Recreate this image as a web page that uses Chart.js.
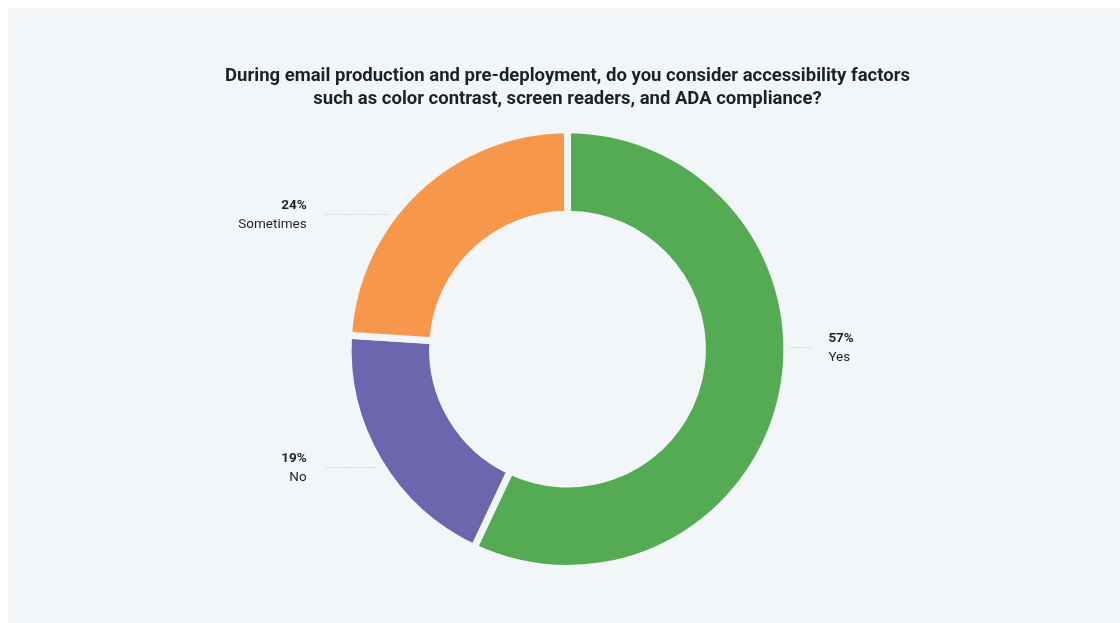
<!DOCTYPE html>
<html>
<head>
<meta charset="utf-8">
<script src="https://cdn.jsdelivr.net/npm/chart.js@4"></script>
<style>
    html, body { margin: 0; padding: 0; background: #ffffff; }
    .panel {
        position: absolute;
        left: 8px; top: 8px;
        width: 1112px; height: 615px;
        background: #f3f6f9;
    }
</style>
</head>
<body>
<div class="panel"><canvas id="accessChart" width="1112" height="615"></canvas></div>
<script>
const answers = ['Yes', 'No', 'Sometimes'];
const shares = [57, 19, 24];
const sliceColors = ['#55ab54', '#6b66ad', '#f7974b'];
const titleLines = [
    'During email production and pre-deployment, do you consider accessibility factors',
    'such as color contrast, screen readers, and ADA compliance?'
];

// vertical placement of each callout, as a fraction of the outer radius from the centre
const calloutLift = [-0.012, 0.545, -0.625];
// slices are separated by a background-coloured border
const panelColor = '#f3f6f9';
const sliceGap = 7;

const calloutPlugin = {
    id: 'callouts',
    afterDatasetsDraw(chart) {
        const ctx = chart.ctx;
        const arcs = chart.getDatasetMeta(0).data;
        arcs.forEach(function(arc, i) {
            const p = arc.getProps(['x', 'y', 'startAngle', 'endAngle', 'outerRadius'], true);
            const mid = (p.startAngle + p.endAngle) / 2;
            const right = Math.cos(mid) >= 0;
            // half of the border sits over the painted edge
            const r = p.outerRadius - sliceGap / 2;
            const ly = Math.round(p.y + calloutLift[i] * r);
            const dy = ly - p.y;
            const edge = Math.sqrt(Math.max(r * r - dy * dy, 0));
            const textX = right ? p.x + r + 45 : p.x - r - 45;

            // dotted leader
            ctx.save();
            ctx.strokeStyle = '#babfc5';
            ctx.lineWidth = 1;
            ctx.setLineDash([1, 2]);
            ctx.beginPath();
            if (right) {
                ctx.moveTo(p.x + edge + 6, ly + 0.5);
                ctx.lineTo(textX - 15, ly + 0.5);
            } else {
                ctx.moveTo(textX + 20, ly + 0.5);
                ctx.lineTo(p.x - edge - 10, ly + 0.5);
            }
            ctx.stroke();
            ctx.restore();

            ctx.save();
            ctx.fillStyle = '#1f2328';
            ctx.textAlign = right ? 'left' : 'right';
            ctx.textBaseline = 'middle';
            ctx.font = 'bold 13.5px Roboto';
            ctx.fillText(shares[i] + '%', textX, ly - 8);
            ctx.font = '13.5px Roboto';
            ctx.fillText(answers[i], textX, ly + 11);
            ctx.restore();
        });
    }
};

document.addEventListener('DOMContentLoaded', function() {
    const ctx = document.getElementById('accessChart');
    new Chart(ctx, {
        type: 'doughnut',
        data: {
            labels: answers,
            datasets: [{
                data: shares,
                backgroundColor: sliceColors,
                borderColor: panelColor,
                borderWidth: sliceGap,
                borderJoinStyle: 'miter'
            }]
        },
        options: {
            responsive: false,
            animation: false,
            cutout: '61.5%',
            layout: { padding: { top: 0, bottom: 51, left: 7 } },
            plugins: {
                legend: { display: false },
                tooltip: { enabled: false },
                title: {
                    display: true,
                    text: titleLines,
                    color: '#1d2126',
                    font: { family: 'Roboto', size: 18.5, weight: 'bold', lineHeight: 1.25 },
                    padding: { top: 57, bottom: 15 }
                }
            }
        },
        plugins: [calloutPlugin]
    });
});
</script>
</body>
</html>
